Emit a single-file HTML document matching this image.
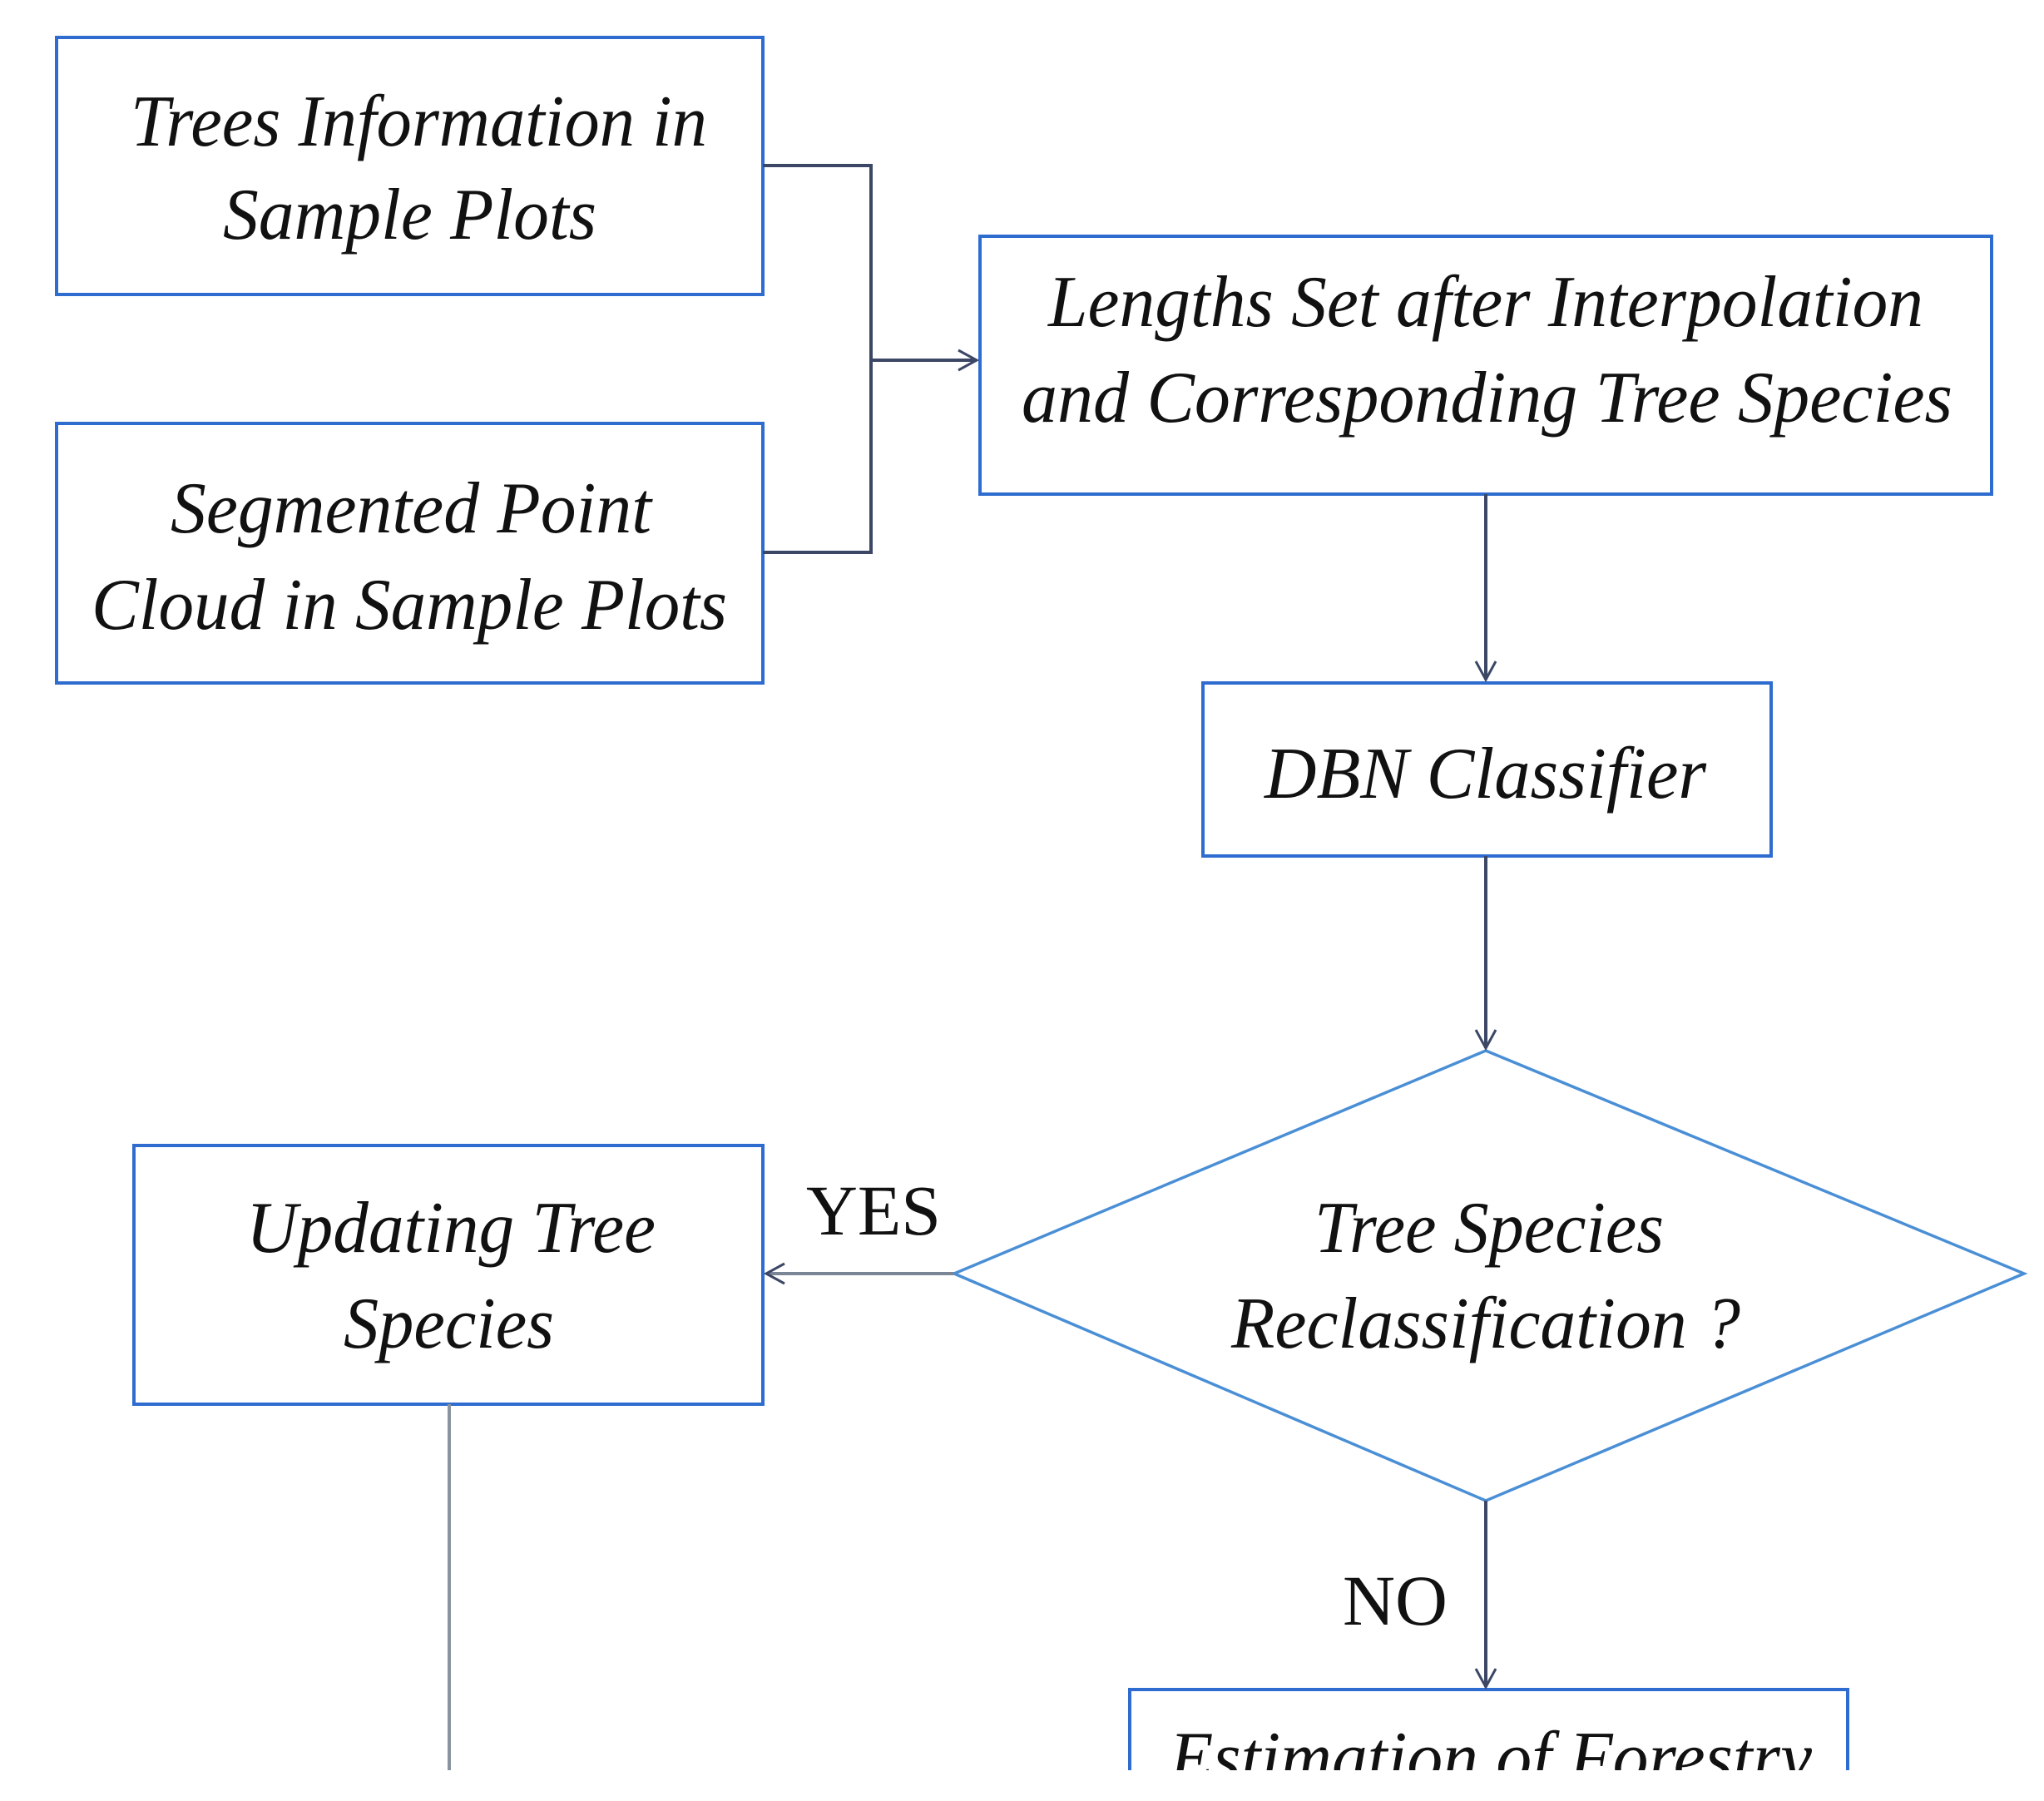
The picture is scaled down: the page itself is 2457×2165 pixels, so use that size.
<!DOCTYPE html>
<html><head><meta charset="utf-8"><style>
html,body{margin:0;padding:0;background:#fff;}
svg{display:block;}
text{font-family:"Liberation Serif",serif;fill:#111;}
.i{font-style:italic;}
</style></head><body>
<svg width="2457" height="2165" viewBox="0 0 2457 2165" xmlns="http://www.w3.org/2000/svg">
<defs>
<marker id="a" markerWidth="30" markerHeight="30" refX="26" refY="15" orient="auto" markerUnits="userSpaceOnUse">
<path d="M4,3 L26,15 L4,27" fill="none" stroke="#3c4766" stroke-width="3"/>
</marker>
</defs>
<g fill="none" stroke="#2f6ccf" stroke-width="4">
<rect x="68" y="45" width="849" height="309"/>
<rect x="68" y="509" width="849" height="312"/>
<rect x="1178" y="284" width="1216" height="310"/>
<rect x="1446" y="821" width="683" height="208"/>
<rect x="161" y="1377" width="756" height="311"/>
<rect x="1358" y="2031" width="863" height="140"/>
</g>
<polygon points="1786,1263 2433,1531 1786,1804 1147,1531" fill="none" stroke="#4a8fd6" stroke-width="3.5"/>
<g fill="none" stroke="#3c4766" stroke-width="4">
<polyline points="917,199 1047,199 1047,664 917,664"/>
<line x1="1047" y1="433" x2="1174" y2="433" marker-end="url(#a)"/>
<line x1="1786" y1="594" x2="1786" y2="817" marker-end="url(#a)"/>
<line x1="1786" y1="1029" x2="1786" y2="1260" marker-end="url(#a)"/>
<line x1="1786" y1="1804" x2="1786" y2="2028" marker-end="url(#a)"/>
<line x1="1147" y1="1531" x2="921" y2="1531" stroke="#7a8596" marker-end="url(#a)"/>
<line x1="540" y1="1688" x2="540" y2="2130" stroke="#8a93a0"/>
</g>
<g font-size="88" class="i">
<text class="i" x="157" y="175" textLength="693" lengthAdjust="spacingAndGlyphs">Trees Information in</text>
<text class="i" x="268" y="287" textLength="449" lengthAdjust="spacingAndGlyphs">Sample Plots</text>
<text class="i" x="205" y="640" textLength="578" lengthAdjust="spacingAndGlyphs">Segmented Point</text>
<text class="i" x="110" y="756" textLength="764" lengthAdjust="spacingAndGlyphs">Cloud in Sample Plots</text>
<text class="i" x="1260" y="392" textLength="1052" lengthAdjust="spacingAndGlyphs">Lengths Set after Interpolation</text>
<text class="i" x="1228" y="507" textLength="1119" lengthAdjust="spacingAndGlyphs">and Corresponding Tree Species</text>
<text class="i" x="1520" y="959" textLength="531" lengthAdjust="spacingAndGlyphs">DBN Classifier</text>
<text class="i" x="1580" y="1505" textLength="420" lengthAdjust="spacingAndGlyphs">Tree Species</text>
<text class="i" x="1480" y="1620" textLength="612" lengthAdjust="spacingAndGlyphs">Reclassification ?</text>
<text class="i" x="296" y="1505" textLength="492" lengthAdjust="spacingAndGlyphs">Updating Tree</text>
<text class="i" x="413" y="1620" textLength="253" lengthAdjust="spacingAndGlyphs">Species</text>
<text class="i" x="1406" y="2142" textLength="772" lengthAdjust="spacingAndGlyphs">Estimation of Forestry</text>
</g>
<text x="969" y="1484" font-size="86" textLength="162" lengthAdjust="spacingAndGlyphs">YES</text>
<text x="1614" y="1953" font-size="86" textLength="126" lengthAdjust="spacingAndGlyphs">NO</text>
<rect x="0" y="2128" width="2457" height="37" fill="#fff"/>
</svg>
</body></html>
